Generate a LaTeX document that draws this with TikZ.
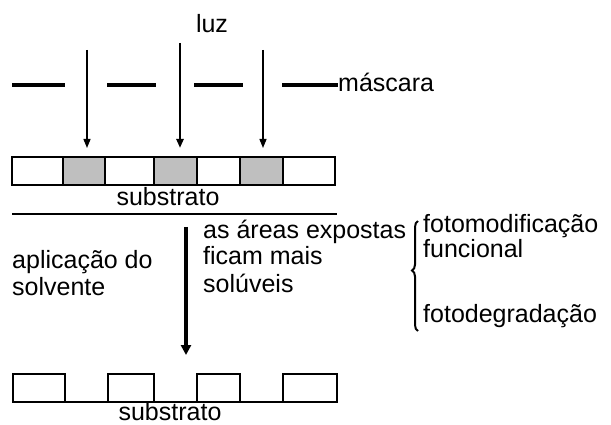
\documentclass[tikz,border=0pt]{standalone}
\usepackage{fontspec}
\setmainfont{Liberation Sans}
\usetikzlibrary{arrows.meta,decorations.pathreplacing}
\begin{document}
\begin{tikzpicture}[x=1pt,y=-1pt,
  lbl/.style={font=\fontsize{25}{27}\selectfont, inner sep=0pt, anchor=base west},
  clbl/.style={lbl, anchor=base},
  cell/.style={draw, line width=2.4pt, minimum height=28pt, inner sep=0pt, outer sep=0pt, anchor=north west},
  exposed/.style={cell, fill=gray!50},
  maskbar/.style={line width=3.5pt},
  ray/.style={line width=1.4pt, -{Triangle[length=9pt,width=7pt]}, shorten >=9pt},
  mainray/.style={ray, line width=2.8pt},
  bigarrow/.style={line width=4pt, -{Triangle[length=10pt,width=10pt]}, shorten >=19pt},
  baseline/.style={line width=2.2pt},
  bracestyle/.style={decorate, decoration={brace, amplitude=6pt, aspect=0.55}, line width=2pt}
]
\path[use as bounding box] (0,0) rectangle (611,425);

% light
\node[clbl] (luz) at (212,33) {luz};

% mask
\coordinate (m1a) at (12,85);  \coordinate (m1b) at (65,85);
\coordinate (m2a) at (107,85); \coordinate (m2b) at (156,85);
\coordinate (m3a) at (194,85); \coordinate (m3b) at (243,85);
\coordinate (m4a) at (282,85); \coordinate (m4b) at (338,85);
\draw[maskbar] (m1a) -- (m1b);
\draw[maskbar] (m2a) -- (m2b);
\draw[maskbar] (m3a) -- (m3b);
\draw[maskbar] (m4a) -- (m4b);
\node[lbl] (mascara) at (338,92) {máscara};

% film on substrate
\node[cell, minimum width=51pt] (c1) at (12,157) {};
\node[exposed, minimum width=42pt] (c2) at (63,157) {};
\node[cell, minimum width=49pt] (c3) at (105,157) {};
\node[exposed, minimum width=43pt] (c4) at (154,157) {};
\node[cell, minimum width=43pt] (c5) at (197,157) {};
\node[exposed, minimum width=43pt] (c6) at (240,157) {};
\node[cell, minimum width=52pt] (c7) at (283,157) {};

% light rays
\coordinate (r1) at (87,50);
\coordinate (r2) at (180,43);
\coordinate (r3) at (263,50);
\draw[ray] (r1) -- (r1 |- c2.north);
\draw[mainray] (r2) -- (r2 |- c4.north);
\draw[ray] (r3) -- (r3 |- c6.north);

\node[clbl] (sub1) at (168,206) {substrato};
\coordinate (s1) at (12,214);
\coordinate (s2) at (337,214);
\draw[baseline] (s1) -- (s2);

% development step
\node[lbl] (apl1) at (12,268) {aplicação do};
\node[lbl] (apl2) at (12,295) {solvente};
\node[lbl] (exp1) at (203,238) {as áreas expostas};
\node[lbl] (exp2) at (203,265) {ficam mais};
\node[lbl] (exp3) at (203,292) {solúveis};

\coordinate (br1) at (418,331);
\coordinate (br2) at (418,221);
\draw[bracestyle] (br1) -- (br2);
\node[lbl] (f1) at (423,233) {fotomodificação};
\node[lbl] (f2) at (423,258) {funcional};
\node[lbl] (f3) at (423,322) {fotodegradação};

% after development
\node[cell, minimum width=52pt] (b1) at (13,374) {};
\node[cell, minimum width=46pt] (b2) at (108,374) {};
\node[cell, minimum width=43pt] (b3) at (197,374) {};
\node[cell, minimum width=54pt] (b4) at (283,374) {};
\draw[baseline] (b1.south west) -- (b4.south east);

\coordinate (bs) at (186,227);
\draw[bigarrow] (bs) -- (bs |- b3.north);

\node[clbl] (sub2) at (170,420) {substrato};
\end{tikzpicture}
\end{document}
